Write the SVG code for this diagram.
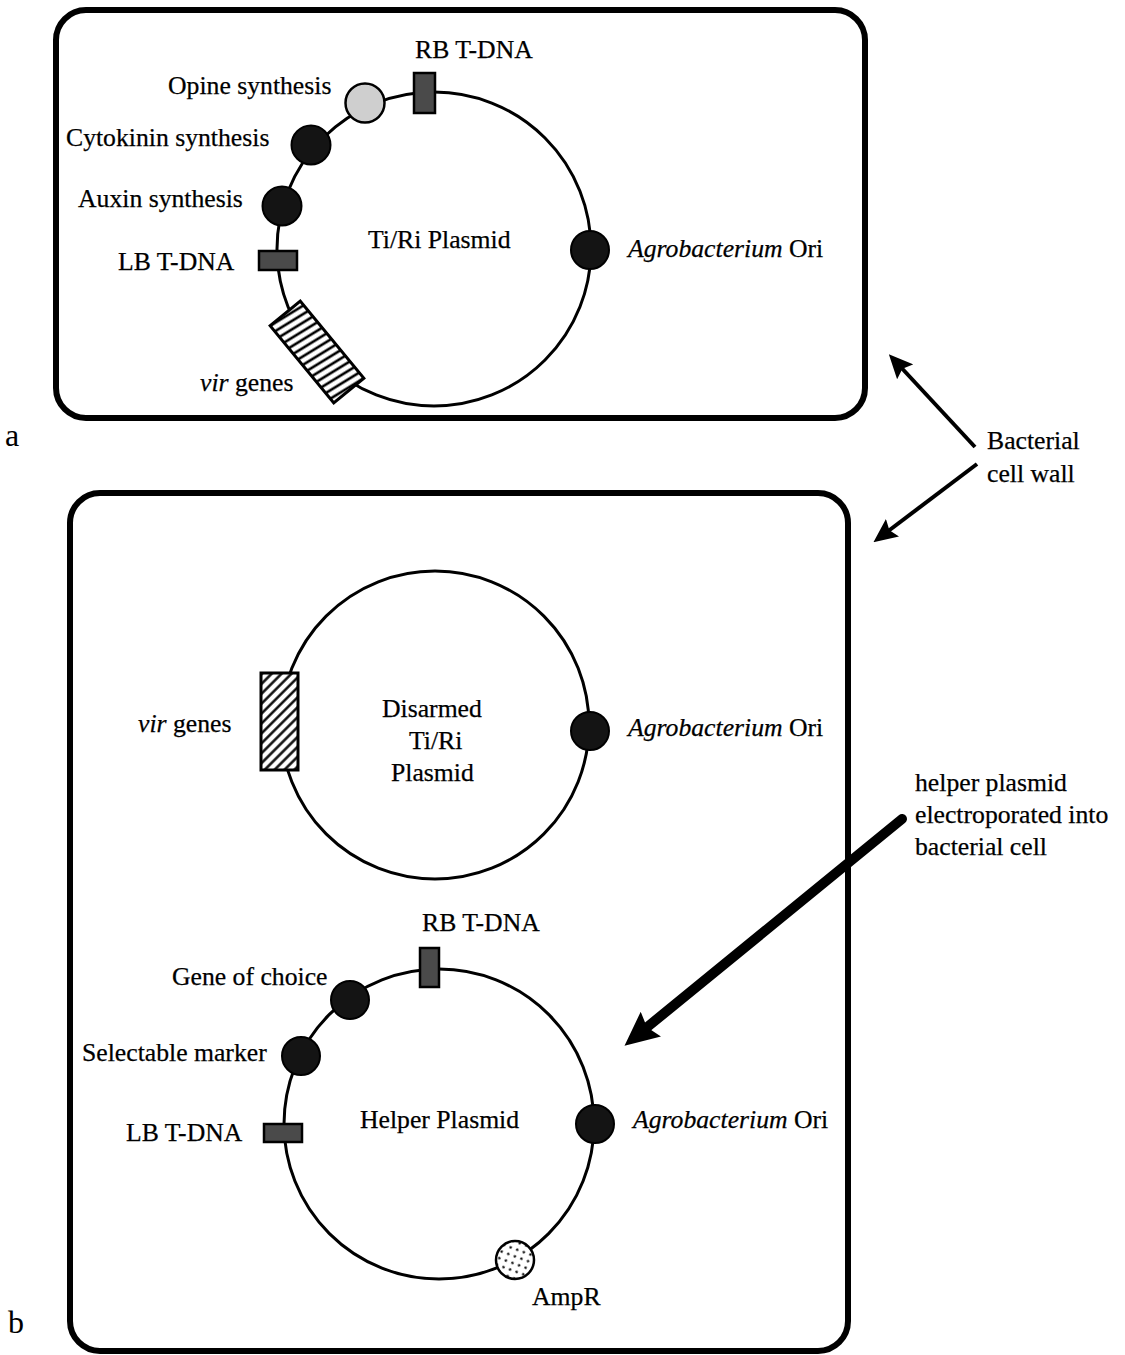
<svg xmlns="http://www.w3.org/2000/svg" width="1125" height="1355" viewBox="0 0 1125 1355">
  <style>
    .wall { fill: none; stroke: #000; stroke-width: 6; }
    .plasmid { fill: none; stroke: #000; stroke-width: 3; }
    .gene { fill: #141414; stroke: #000; stroke-width: 2; }
    .tdna { fill: #4a4a4a; stroke: #000; stroke-width: 2.5; }
    .lbl { font-family: "Liberation Serif", "Times New Roman", serif; font-size: 25.7px; fill: #000; stroke: #000; stroke-width: 0.25; }
    .big { font-family: "Liberation Serif", "Times New Roman", serif; font-size: 32px; fill: #000; }
    .it { font-style: italic; }
    .conn { stroke: #000; fill: none; }
  </style>
  <defs>
    <pattern id="hatchTop" patternUnits="userSpaceOnUse" width="12" height="7.2" patternTransform="rotate(8)">
      <rect width="12" height="7.2" fill="#fff"/>
      <line x1="0" y1="3.6" x2="12" y2="3.6" stroke="#000" stroke-width="2.6"/>
    </pattern>
    <pattern id="hatchDiag" patternUnits="userSpaceOnUse" width="12" height="7" patternTransform="rotate(-45)">
      <rect width="12" height="7" fill="#fff"/>
      <line x1="0" y1="3.5" x2="12" y2="3.5" stroke="#000" stroke-width="2.4"/>
    </pattern>
    <pattern id="dots" patternUnits="userSpaceOnUse" width="7" height="7" patternTransform="rotate(20)">
      <rect width="7" height="7" fill="#fff"/>
      <circle cx="3.5" cy="3.5" r="1.2" fill="#000"/>
    </pattern>
    <marker id="headThin" markerUnits="userSpaceOnUse" markerWidth="24" markerHeight="22" viewBox="0 0 24 22" refX="12" refY="11" orient="auto">
      <path d="M0,0 L24,11 L0,22 L4,11 z" fill="#000"/>
    </marker>
    <marker id="headThick" markerUnits="userSpaceOnUse" markerWidth="34" markerHeight="32" viewBox="0 0 34 32" refX="14" refY="16" orient="auto">
      <path d="M0,0 L34,16 L0,32 L5,16 z" fill="#000"/>
    </marker>
  </defs>

  <rect width="1125" height="1355" fill="#fff"/>

  <!-- Cell a -->
  <g id="cell-a">
    <rect class="wall" x="56" y="10" width="809" height="408" rx="30" ry="30"/>
    <text class="big" x="5" y="446">a</text>
  </g>

  <g id="ti-plasmid">
    <circle class="plasmid" cx="434" cy="249" r="157"/>
    <text class="lbl" x="368" y="248">Ti/Ri Plasmid</text>
  </g>
  <g id="rb-tdna-a">
    <rect class="tdna" x="414" y="73" width="21" height="40"/>
    <text class="lbl" x="415" y="58">RB T-DNA</text>
  </g>
  <g id="opine">
    <circle cx="365" cy="103" r="19.5" fill="#cfcfcf" stroke="#000" stroke-width="2.5"/>
    <text class="lbl" x="168" y="94">Opine synthesis</text>
  </g>
  <g id="cytokinin">
    <circle class="gene" cx="311" cy="145" r="19.5"/>
    <text class="lbl" x="66" y="146">Cytokinin synthesis</text>
  </g>
  <g id="auxin">
    <circle class="gene" cx="282" cy="206" r="19.5"/>
    <text class="lbl" x="78" y="207">Auxin synthesis</text>
  </g>
  <g id="lb-tdna-a">
    <rect class="tdna" x="259" y="251" width="38" height="19"/>
    <text class="lbl" x="118" y="270">LB T-DNA</text>
  </g>
  <g id="vir-a">
    <rect x="-19.5" y="-50" width="39" height="100" fill="url(#hatchTop)" stroke="#000" stroke-width="3" transform="translate(317 352) rotate(-39.5)"/>
    <text class="lbl" x="200" y="391"><tspan class="it">vir</tspan> genes</text>
  </g>
  <g id="ori-a">
    <circle class="gene" cx="590" cy="250" r="19"/>
    <text class="lbl" x="628" y="257"><tspan class="it">Agrobacterium</tspan> Ori</text>
  </g>

  <!-- Cell b -->
  <g id="cell-b">
    <rect class="wall" x="70" y="493" width="778" height="858" rx="30" ry="30"/>
    <text class="big" x="8" y="1333">b</text>
  </g>

  <g id="disarmed-plasmid">
    <circle class="plasmid" cx="435" cy="725" r="154"/>
    <text class="lbl" x="382" y="717">Disarmed</text>
    <text class="lbl" x="409" y="749">Ti/Ri</text>
    <text class="lbl" x="391" y="781">Plasmid</text>
  </g>
  <g id="vir-b">
    <rect x="261" y="673" width="37" height="97" fill="url(#hatchDiag)" stroke="#000" stroke-width="3"/>
    <text class="lbl" x="138" y="732"><tspan class="it">vir</tspan> genes</text>
  </g>
  <g id="ori-b1">
    <circle class="gene" cx="590" cy="731" r="19"/>
    <text class="lbl" x="628" y="736"><tspan class="it">Agrobacterium</tspan> Ori</text>
  </g>

  <g id="helper-plasmid">
    <circle class="plasmid" cx="439" cy="1124" r="155"/>
    <text class="lbl" x="360" y="1128">Helper Plasmid</text>
  </g>
  <g id="rb-tdna-b">
    <rect class="tdna" x="420" y="948" width="19" height="39"/>
    <text class="lbl" x="422" y="931">RB T-DNA</text>
  </g>
  <g id="gene-of-choice">
    <circle class="gene" cx="350" cy="1000" r="19"/>
    <text class="lbl" x="172" y="985">Gene of choice</text>
  </g>
  <g id="selectable-marker">
    <circle class="gene" cx="301" cy="1056" r="19"/>
    <text class="lbl" x="82" y="1061">Selectable marker</text>
  </g>
  <g id="lb-tdna-b">
    <rect class="tdna" x="264" y="1124" width="38" height="18"/>
    <text class="lbl" x="126" y="1141">LB T-DNA</text>
  </g>
  <g id="ori-b2">
    <circle class="gene" cx="595" cy="1124" r="19"/>
    <text class="lbl" x="633" y="1128"><tspan class="it">Agrobacterium</tspan> Ori</text>
  </g>
  <g id="ampr">
    <circle cx="515" cy="1260" r="19" fill="url(#dots)" stroke="#000" stroke-width="2.5"/>
    <text class="lbl" x="532" y="1305">AmpR</text>
  </g>

  <!-- Labels -->
  <g id="bacterial-cell-wall-label">
    <text class="lbl" x="987" y="449">Bacterial</text>
    <text class="lbl" x="987" y="482">cell wall</text>
  </g>
  <g id="helper-label">
    <text class="lbl" x="915" y="791">helper plasmid</text>
    <text class="lbl" x="915" y="823">electroporated into</text>
    <text class="lbl" x="915" y="855">bacterial cell</text>
  </g>

  <!-- Connectors -->
  <g id="connectors">
    <line class="conn" x1="975" y1="447" x2="897" y2="363" stroke-width="4" marker-end="url(#headThin)"/>
    <line class="conn" x1="977" y1="464" x2="883" y2="535" stroke-width="4" marker-end="url(#headThin)"/>
    <line class="conn" x1="902" y1="819" x2="640" y2="1033" stroke-width="10" stroke-linecap="round" marker-end="url(#headThick)"/>
  </g>
</svg>
